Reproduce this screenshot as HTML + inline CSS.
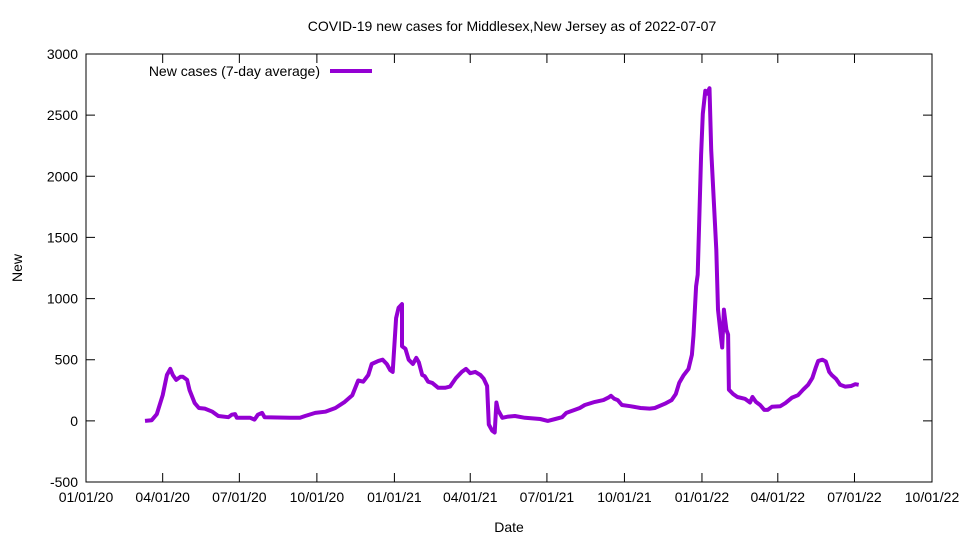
<!DOCTYPE html>
<html><head><meta charset="utf-8">
<style>body{margin:0;background:#fff}svg{display:block;font-family:"Liberation Sans",sans-serif}</style>
</head><body>
<svg id="chart" width="960" height="540"></svg>
<script>
const xTickLabels=["01/01/20","04/01/20","07/01/20","10/01/20","01/01/21","04/01/21","07/01/21","10/01/21","01/01/22","04/01/22","07/01/22","10/01/22"];
const xTickDays=[0,91,182,274,366,456,547,639,731,821,912,1004];
const yTicks=[-500,0,500,1000,1500,2000,2500,3000];
const days=[70,78,84,91,96,100,103,107,112,115,120,123,129,134,141,150,157,169,173,177,179,195,200,204,209,212,242,254,260,272,284,296,307,316,323,329,335,339,347,352,357,361,364,368,371,375,375,379,383,388,392,395,399,402,406,411,418,426,432,439,446,451,456,462,468,472,476,478,482,485,487,489,494,501,509,521,539,548,557,565,570,580,586,592,604,614,620,623,627,631,636,646,658,669,675,687,695,700,704,709,715,719,721,724,726,730,732,735,737,740,742,748,750,754,755,757,760,762,763,768,773,782,788,791,795,800,805,809,814,824,830,838,845,851,857,862,866,869,874,878,882,885,890,895,901,908,913,917];
const cases=[0,5,55,210,375,425,375,335,360,360,335,250,145,105,100,75,40,30,50,55,25,25,10,50,65,30,25,25,40,65,75,105,155,210,330,320,375,465,490,500,465,415,400,840,925,955,610,590,500,465,515,480,375,365,320,310,270,270,280,350,400,425,390,400,375,345,285,-30,-80,-95,150,90,25,35,40,25,15,0,15,30,65,90,105,130,155,170,190,205,180,170,130,120,105,100,105,140,170,220,310,370,425,540,700,1100,1195,2175,2510,2700,2675,2720,2215,1400,910,660,600,910,745,705,255,220,195,180,150,195,155,130,90,90,115,120,145,190,210,255,295,350,435,490,500,485,400,375,345,295,280,285,300,295];

const L=86,R=932,T=54,B=482;
const X=d=>L+(d-0)*(R-L)/1004;
const Y=v=>B-(v+500)*(B-T)/3500;
const NS="http://www.w3.org/2000/svg";
const svg=document.getElementById('chart');
function mk(tag,attrs,text){const e=document.createElementNS(NS,tag);for(const k in attrs)e.setAttribute(k,attrs[k]);if(text!==undefined)e.textContent=text;svg.appendChild(e);return e;}

yTicks.forEach(v=>{
  const y=Y(v);
  const t=mk('path',{d:`M${L},${y}h9M${R},${y}h-9`,stroke:'#000','stroke-width':1});
  
  
  const lb=mk('text',{x:L-8,y:y+5,'text-anchor':'end','font-size':14},String(v));
  
  
});
xTickDays.forEach((d,i)=>{
  const x=X(d);
  const t=mk('path',{d:`M${x},${B}v-9M${x},${T}v9`,stroke:'#000','stroke-width':1});
  
  
  const lb=mk('text',{x:x,y:B+20,'text-anchor':'middle','font-size':14},xTickLabels[i]);
  
  
});
const frame=mk('rect',{x:L,y:T,width:R-L,height:B-T,fill:'none',stroke:'#000','stroke-width':1});



let d='';
days.forEach((dd,i)=>{d+=(i?'L':'M')+X(dd).toFixed(1)+','+Y(cases[i]).toFixed(1);});
const line=mk('path',{d:d,fill:'none',stroke:'#9400d3','stroke-width':4,'stroke-linejoin':'round'});



const title=mk('text',{x:512,y:31,'text-anchor':'middle','font-size':14},'COVID-19 new cases for Middlesex,New Jersey as of 2022-07-07');


const xt=mk('text',{x:509,y:532,'text-anchor':'middle','font-size':14},'Date');


const yt=mk('text',{x:22,y:268,'text-anchor':'middle','font-size':14,transform:'rotate(-90 22 268)'},'New');


const lt=mk('text',{x:320,y:76,'text-anchor':'end','font-size':14},'New cases (7-day average)');


const ll=mk('path',{d:'M330,71H372',stroke:'#9400d3','stroke-width':4});


</script>
</body></html>
